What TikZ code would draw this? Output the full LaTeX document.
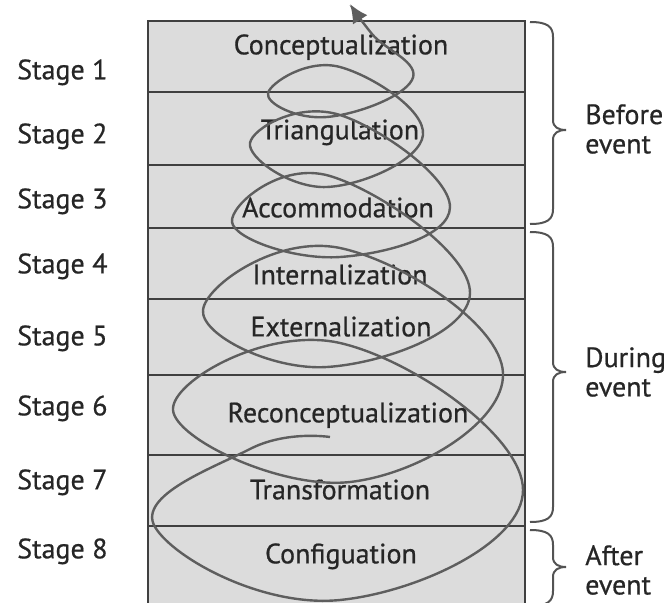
\documentclass[tikz,border=0pt]{standalone}
\usepackage{fontspec}
\setmainfont{PT Sans}[FakeBold=0.6]
\usetikzlibrary{arrows.meta}
\definecolor{boxfill}{HTML}{DCDCDC}
\definecolor{linec}{HTML}{404040}
\definecolor{txtc}{HTML}{262626}
\definecolor{spc}{HTML}{5E5E5E}
\newcommand\mybrace[3]{%
  \draw[bracestyle] (530,#1) .. controls (548,#1) and (553,{#1+5}) .. (553,{#1+15})
    -- (553,{#2-10}) .. controls (553,{#2-3}) and (558,#2) .. (566,#2)
    .. controls (558,#2) and (553,{#2+3}) .. (553,{#2+10})
    -- (553,{#3-15}) .. controls (553,{#3-5}) and (548,#3) .. (530,#3);}
\begin{document}
\begin{tikzpicture}[x=0.75pt,y=-0.75pt,
  lbl/.style={text=txtc, font=\fontsize{21}{22}\selectfont, inner sep=0pt},
  stagelbl/.style={lbl, anchor=mid west},
  phaselbl/.style={lbl, anchor=mid},
  phase/.style={lbl, anchor=west, align=left},
  rowline/.style={draw=linec, line width=2.1pt},
  spiral/.style={draw=spc, line width=1.8pt},
  bracestyle/.style={draw=linec!90, line width=1.5pt}]
\useasboundingbox (0,0) rectangle (665,603);
% box
\fill[boxfill] (148,21) rectangle (525,610);
\foreach \yy in {92,165,228,299,375,455,526}
  \draw[rowline] (148,\yy) -- (525,\yy);
\draw[rowline] (148,610) -- (148,21) -- (525,21) -- (525,610);
% stage labels
\node[stagelbl] (s1) at (17,76) {Stage 1};
\node[stagelbl] (s2) at (17,140) {Stage 2};
\node[stagelbl] (s3) at (17,205) {Stage 3};
\node[stagelbl] (s4) at (17,270) {Stage 4};
\node[stagelbl] (s5) at (17,342) {Stage 5};
\node[stagelbl] (s6) at (17,412) {Stage 6};
\node[stagelbl] (s7) at (17,486) {Stage 7};
\node[stagelbl] (s8) at (17,555) {Stage 8};
% phase labels
\node[phaselbl] (p1) at (341,51) {Conceptualization};
\node[phaselbl] (p2) at (340,136) {Triangulation};
\node[phaselbl] (p3) at (338,214) {Accommodation};
\node[phaselbl] (p4) at (340,281) {Internalization};
\node[phaselbl] (p5) at (341,333) {Externalization};
\node[phaselbl] (p6) at (348,419) {Reconceptualization};
\node[phaselbl] (p7) at (340,496) {Transformation};
\node[phaselbl] (p8) at (341,560) {Configuation};
% spiral
\draw[spiral, -{Latex[length=14pt,width=13pt]}] plot[smooth, tension=0.75] coordinates {
 (330,437) (250,449) (155,527) (340,600) (523,490) (340,343)
 (173,410) (350,482) (503,373) (340,248)
 (203,310) (327,367) (470,293) (330,176)
 (232,222) (340,257) (450,207) (340,115)
 (250,143) (327,187) (423,135) (340,67)
 (268,93) (327,117) (412,80) (372,34) (350,4)};
% braces
\mybrace{22}{130}{224}
\mybrace{232}{372}{522}
\mybrace{530}{567}{606}
\node[phase] (b1) at (585,129) {Before\\event};
\node[phase] (b2) at (585,372) {During\\event};
\node[phase] (b3) at (585,570) {After\\event};
\end{tikzpicture}
\end{document}
